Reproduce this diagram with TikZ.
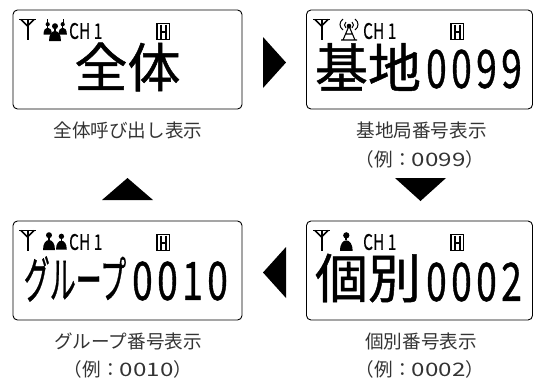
\documentclass[tikz,border=0pt]{standalone}
\usepackage{fontspec}
\setmainfont{Noto Sans CJK JP}
\newfontfamily\lcdfont[FakeBold=.9]{Noto Sans CJK JP}
\newfontfamily\lcdnum[FakeBold=.9,LetterSpace=12]{Noto Sans CJK JP}
\newfontfamily\lcdsmall[FakeBold=.4]{Noto Sans CJK JP}
\definecolor{labelcol}{HTML}{333333}
\tikzset{
  x=1pt,y=-1pt,
  lcdbox/.style={draw=black,line width=0.9pt,rounded corners=4.5pt,minimum height=99pt,inner sep=0pt},
  caption/.style={text=labelcol,font=\fontsize{18.6}{20}\selectfont,inner sep=0pt},
  statustext/.style={font=\lcdsmall\fontsize{21.5}{22}\selectfont,inner sep=0pt,anchor=west,xscale=.72},
  kanji/.style={inner sep=0pt,anchor=center,font=\lcdfont\fontsize{53}{54}\selectfont},
  digits/.style={inner sep=0pt,anchor=center,font=\lcdnum\fontsize{53}{54}\selectfont,xscale=.7},
  icon/.style={line width=1.5pt,line cap=butt},
}
\newcommand{\fwcolon}{^^^^ff1a}
\newcommand{\antenna}[2]{\begin{scope}[shift={(#1,#2)}]
 \draw[icon] (0,0.5) -- (17,0.5);
 \draw[icon] (2,0.5) -- (8.5,7) -- (15,0.5);
 \draw[line width=2pt] (8.5,0) -- (8.5,21);
\end{scope}}
\newcommand{\hmark}[2]{\begin{scope}[shift={(#1,#2)}]
 \draw[line width=1.3pt] (0,0) rectangle (12.5,16);
 \draw[line width=2pt] (3.8,1) -- (3.8,15) (8.7,1) -- (8.7,15) (3.8,8) -- (8.7,8);
\end{scope}}
\newcommand{\person}[3]{\begin{scope}[shift={(#1,#2)},scale=#3]
 \fill (6,3.2) circle (3);
 \fill (5,5) rectangle (7,8);
 \fill (0,18) .. controls (0,11) and (3,8) .. (6,8) .. controls (9,8) and (12,11) .. (12,18) -- cycle;
\end{scope}}
\begin{document}
\begin{tikzpicture}
\useasboundingbox (0,0) rectangle (533,381);
% boxes
\node[lcdbox,minimum width=229pt] (boxA) at (127.5,59.5) {};
\node[lcdbox,minimum width=226pt] (boxB) at (419.5,59.5) {};
\node[lcdbox,minimum width=229pt] (boxC) at (127.5,270.5) {};
\node[lcdbox,minimum width=226pt] (boxD) at (419.5,270.5) {};
% status rows
\antenna{19}{19}\antenna{313}{19}\antenna{19}{230}\antenna{313}{230}
\hmark{157}{23.5}\hmark{451}{23.5}\hmark{157}{234.5}\hmark{451}{234.5}
\node[statustext] (chA) at (69,31) {CH 1};
\node[statustext] (chB) at (363,31) {CH 1};
\node[statustext] (chC) at (69,242) {CH 1};
\node[statustext] (chD) at (363,242) {CH 1};
% all-call icon
\person{43.5}{22}{.7}\person{58.5}{22}{.7}\person{49}{23}{1}
\draw[line width=1pt] (47.5,19) -- (47.5,24) (63,19) -- (63,24);
% group icon
\person{43}{232}{1}\person{56}{233.5}{.9}
% individual icon
\person{340}{232}{1.05}
% base station icon
\begin{scope}[shift={(338,19)}]
 \draw[line width=1.1pt] (11,7) -- (5,21) (11,7) -- (17,21) (3,21) -- (19,21) (7.5,15) -- (14.5,15);
 \fill (11,7) circle (2.3);
 \draw[line width=1pt] (5,0) .. controls (1,3) and (1,8) .. (5,11) (8,3) .. controls (6,5) and (6,7) .. (8,9);
 \draw[line width=1pt] (17,0) .. controls (21,3) and (21,8) .. (17,11) (14,3) .. controls (16,5) and (16,7) .. (14,9);
\end{scope}
% large text
\node[kanji] (bigA) at (127.5,67) {全体};
\node[kanji] (bigB) at (368,67) {基地};
\node[digits] (numB) at (474,69) {0099};
\node[kanji] (bigD) at (368,278) {個別};
\node[digits] (numD) at (474,282) {0002};
\node[inner sep=0pt,font=\lcdfont\fontsize{50}{54}\selectfont,xscale=.52] (bigC) at (75,279) {グループ};
\node[digits] (numC) at (180,281) {0010};
% captions
\node[caption] (capA) at (128,130) {全体呼び出し表示};
\node[caption] (capB) at (421.5,130) {基地局番号表示};
\node[caption] (capB2) at (420,159.5) {（例\fwcolon\scalebox{1.3}[1]{0099}）};
\node[caption] (capC) at (128,341) {グループ番号表示};
\node[caption] (capC2) at (128,369.5) {（例\fwcolon\scalebox{1.3}[1]{0010}）};
\node[caption] (capD) at (421,341) {個別番号表示};
\node[caption] (capD2) at (420,369.5) {（例\fwcolon\scalebox{1.3}[1]{0002}）};
% arrows
\fill (263,37) -- (286,62.5) -- (263,88) -- cycle;
\fill (395,178) -- (446,178) -- (420.5,201) -- cycle;
\fill (286,247) -- (263,272.5) -- (286,298) -- cycle;
\fill (102,200) -- (153,200) -- (127.5,178) -- cycle;
\end{tikzpicture}
\end{document}
